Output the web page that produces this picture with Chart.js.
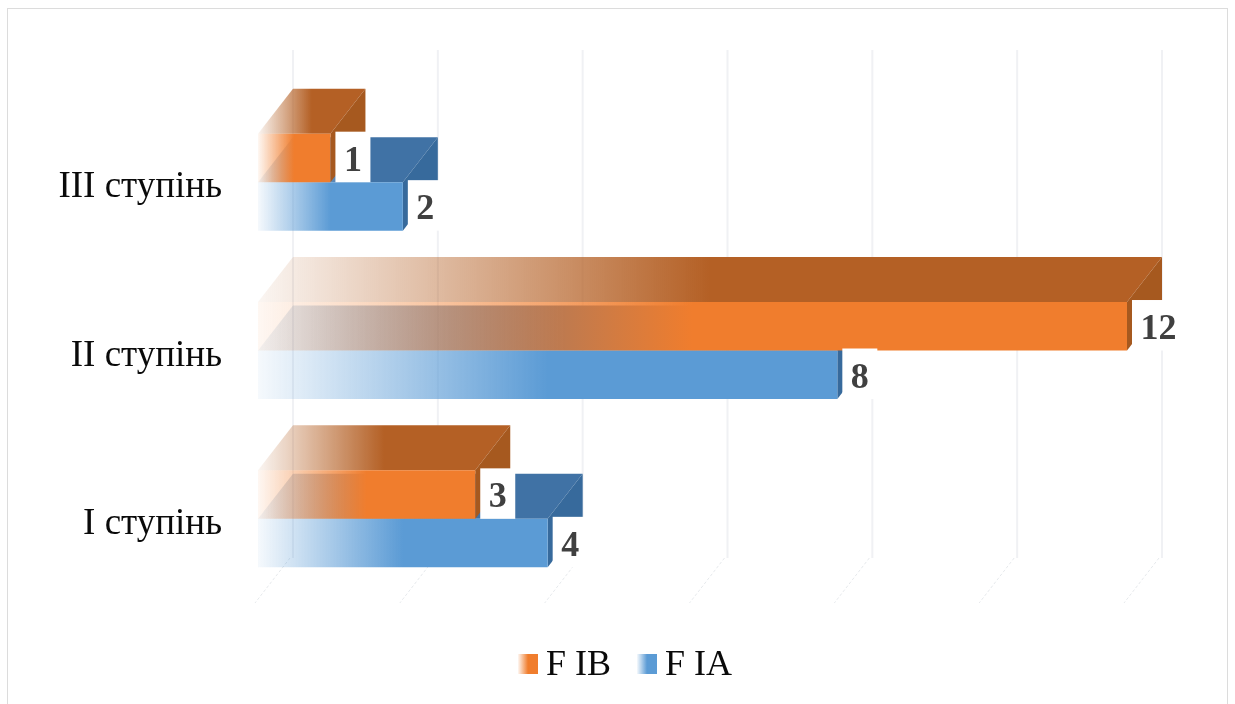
<!DOCTYPE html>
<html>
<head>
<meta charset="utf-8">
<script src="https://cdn.jsdelivr.net/npm/chart.js@4"></script>
<style>
  html, body { margin: 0; padding: 0; background: #fff; overflow: hidden; }
  canvas { display: block; }
</style>
</head>
<body>
<canvas id="myChart" width="1235" height="704"></canvas>
<script>
const categories = ['III ступінь', 'II ступінь', 'I ступінь'];
const seriesNames = ['F IB', 'F IA'];
const fIB = [1, 12, 3];
const fIA = [2, 8, 4];
const gridValues = [0, 2, 4, 6, 8, 10, 12];

const serif = '"Liberation Serif", "Times New Roman", serif';
const depthX = 35;
const depthY = -45;

// rgb triples for each series: front, top face, side face
const palette = [
    { front: '240,125,45', top: '180,96,37', side: '166,89,31' },
    { front: '91,155,213', top: '64,114,165', side: '55,106,156' }
];

function fade(ctx, x0, x1, rgb) {
    const g = ctx.createLinearGradient(x0, 0, x1, 0);
    g.addColorStop(0, 'rgba(' + rgb + ',0.06)');
    g.addColorStop(0.5, 'rgba(' + rgb + ',1)');
    g.addColorStop(1, 'rgba(' + rgb + ',1)');
    return g;
}

function frontColor(context) {
    const chart = context.chart;
    const rgb = palette[context.datasetIndex].front;
    if (!chart.chartArea) return 'rgb(' + rgb + ')';
    const x = chart.scales.x;
    return fade(chart.ctx, x.getPixelForValue(0), x.getPixelForValue(context.raw), rgb);
}

function poly(ctx, pts, fill) {
    ctx.beginPath();
    pts.forEach((p, i) => i ? ctx.lineTo(p[0], p[1]) : ctx.moveTo(p[0], p[1]));
    ctx.closePath();
    ctx.fillStyle = fill;
    ctx.fill();
}

const box3d = {
    id: 'box3d',
    beforeDraw(chart) {
        const ctx = chart.ctx;
        ctx.save();
        ctx.strokeStyle = '#dcdcdc';
        ctx.lineWidth = 1;
        ctx.strokeRect(7.5, 8.5, 1220, 720);
        ctx.restore();
    },
    beforeDatasetsDraw(chart) {
        // back wall lines plus the short floor lines running to the front
        const ctx = chart.ctx;
        const x = chart.scales.x;
        const area = chart.chartArea;
        ctx.save();
        gridValues.forEach(v => {
            const px = x.getPixelForValue(v);
            ctx.strokeStyle = '#f0f1f4';
            ctx.lineWidth = 2;
            ctx.beginPath();
            ctx.moveTo(px + depthX, area.top + depthY - 3);
            ctx.lineTo(px + depthX, area.bottom + depthY);
            ctx.stroke();
            ctx.strokeStyle = '#e6e9ec';
            ctx.lineWidth = 1;
            ctx.setLineDash([3, 2]);
            ctx.beginPath();
            ctx.moveTo(px + depthX - 3, area.bottom + depthY);
            ctx.lineTo(px - 3, area.bottom);
            ctx.stroke();
            ctx.setLineDash([]);
        });
        ctx.restore();
    },
    beforeDatasetDraw(chart, args) {
        const ctx = chart.ctx;
        const colors = palette[args.index];
        args.meta.data.forEach(bar => {
            const p = bar.getProps(['x', 'y', 'base', 'height'], true);
            const top = p.y - p.height / 2;
            const bottom = p.y + p.height / 2;
            poly(ctx, [
                [p.base, top],
                [p.x, top],
                [p.x + depthX, top + depthY],
                [p.base + depthX, top + depthY]
            ], fade(ctx, p.base, p.x + depthX, colors.top));
            poly(ctx, [
                [p.x, top],
                [p.x + depthX, top + depthY],
                [p.x + depthX, bottom + depthY],
                [p.x, bottom]
            ], 'rgb(' + colors.side + ')');
        });
    },
    afterDatasetsDraw(chart) {
        const ctx = chart.ctx;
        ctx.save();
        ctx.font = 'bold 36px ' + serif;
        ctx.textBaseline = 'middle';
        ctx.textAlign = 'left';
        chart.data.datasets.forEach((ds, i) => {
            chart.getDatasetMeta(i).data.forEach((bar, j) => {
                const p = bar.getProps(['x', 'y', 'height'], true);
                const text = String(ds.data[j]);
                const w = ctx.measureText(text).width;
                ctx.fillStyle = '#fff';
                ctx.fillRect(p.x + 5, p.y - p.height / 2 - 2, w + 17, p.height + 2);
                ctx.fillStyle = '#404040';
                ctx.fillText(text, p.x + 5 + 8.5, p.y + 3.5);
            });
        });

        // legend row under the plot
        const swatchX = [518, 637];
        const labelX = [546, 665];
        chart.data.datasets.forEach((ds, i) => {
            ctx.fillStyle = fade(ctx, swatchX[i], swatchX[i] + 20, palette[i].front);
            ctx.fillRect(swatchX[i], 654, 20, 20);
            ctx.fillStyle = '#0a0a0a';
            ctx.font = '36px ' + serif;
            ctx.fillText(ds.label, labelX[i], 666);
        });
        ctx.restore();
    }
};

new Chart(document.getElementById('myChart'), {
    type: 'bar',
    data: {
        labels: categories,
        datasets: [
            { label: seriesNames[0], data: fIB, backgroundColor: frontColor },
            { label: seriesNames[1], data: fIA, backgroundColor: frontColor }
        ]
    },
    options: {
        indexAxis: 'y',
        responsive: false,
        animation: false,
        categoryPercentage: 0.576,
        barPercentage: 1,
        layout: { padding: { top: 98, bottom: 101, right: 108, left: 0 } },
        scales: {
            x: { display: false, min: 0, max: 12 },
            y: {
                grid: { display: false },
                border: { display: false },
                ticks: {
                    padding: 28,
                    labelOffset: 5.5,
                    color: '#0a0a0a',
                    font: { family: serif, size: 37 }
                },
                afterFit(scale) { scale.width = 258; }
            }
        },
        plugins: {
            legend: { display: false },
            tooltip: { enabled: false }
        }
    },
    plugins: [box3d]
});
</script>
</body>
</html>
